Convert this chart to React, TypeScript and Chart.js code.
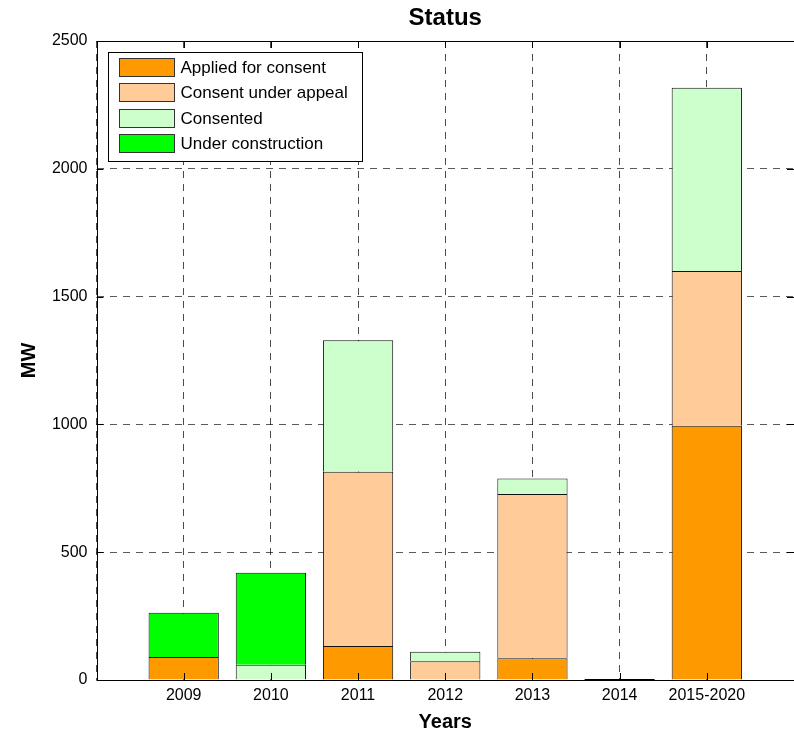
import React, { useEffect, useRef } from "react";
import { Chart, registerables } from "chart.js";

Chart.register(...registerables);

const categories = ["", "2009", "2010", "2011", "2012", "2013", "2014", "2015-2020", ""];
const appliedForConsent = [null, 90, null, 133, null, 85, 0, 995, null];
const consentUnderAppeal = [null, null, null, 682, 73, 643, null, 605, null];
const consented = [null, null, 60, 514, 38, 60, null, 717, null];
const underConstruction = [null, 173, 360, null, null, null, null, null, null];

const seriesLabels = ["Applied for consent", "Consent under appeal", "Consented", "Under construction"];
const seriesColors = ["#FF9900", "#FFCC99", "#CCFFCC", "#00FF00"];
const yTicks = [0, 500, 1000, 1500, 2000, 2500];

const FONT = "'Liberation Sans', Arial, Helvetica, sans-serif";

const framePlugin = {
  id: "framePlugin",
  afterDraw(chart: any) {
    const { ctx, chartArea } = chart;
    const { left, right, top, bottom } = chartArea;
    ctx.save();
    ctx.strokeStyle = "#000";
    ctx.lineWidth = 1;
    const ys = chart.scales.y;
    const xs = chart.scales.x;
    ctx.beginPath();
    yTicks.forEach((v) => {
      const py = Math.round(ys.getPixelForValue(v)) + 0.5;
      ctx.moveTo(left, py);
      ctx.lineTo(left + 7, py);
      ctx.moveTo(right, py);
      ctx.lineTo(right - 7, py);
    });
    for (let i = 1; i < categories.length - 1; i++) {
      const px = Math.round(xs.getPixelForValue(i)) + 0.5;
      ctx.moveTo(px, bottom);
      ctx.lineTo(px, bottom - 7);
      ctx.moveTo(px, top);
      ctx.lineTo(px, top + 7);
    }
    const p14 = xs.getPixelForValue(6);
    const by = Math.round(bottom) - 0.5;
    ctx.moveTo(p14 - 35, by);
    ctx.lineTo(p14 + 35, by);
    ctx.stroke();
    ctx.strokeRect(Math.round(left) + 0.5, Math.round(top) + 0.5, Math.round(right - left), Math.round(bottom - top));

    ctx.fillStyle = "#000";
    ctx.font = `bold 24px ${FONT}`;
    ctx.textAlign = "center";
    ctx.textBaseline = "middle";
    ctx.fillText("Status", (left + right) / 2, 18);

    const lx = left + 11;
    const ly = top + 11;
    const lw = 254;
    const lh = 109;
    ctx.fillStyle = "#fff";
    ctx.fillRect(lx, ly, lw, lh);
    ctx.strokeStyle = "#000";
    ctx.strokeRect(Math.round(lx) + 0.5, Math.round(ly) + 0.5, lw, lh);
    ctx.font = `17px ${FONT}`;
    ctx.textAlign = "left";
    ctx.textBaseline = "middle";
    seriesLabels.forEach((lab, i) => {
      const sy = Math.round(ly + 6 + i * 25.3);
      const sx = Math.round(lx + 11);
      ctx.fillStyle = seriesColors[i];
      ctx.fillRect(sx, sy, 55, 18);
      ctx.strokeStyle = "#333";
      ctx.strokeRect(sx + 0.5, sy + 0.5, 55, 18);
      ctx.fillStyle = "#000";
      ctx.fillText(lab, lx + 73, sy + 10);
    });
    ctx.restore();
  },
};

export default function App() {
  const ref = useRef<HTMLCanvasElement | null>(null);
  useEffect(() => {
    if (!ref.current) return;
    Chart.defaults.font.family = FONT;
    Chart.defaults.color = "#000";
    const data = [appliedForConsent, consentUnderAppeal, consented, underConstruction];
    const chart = new Chart(ref.current, {
      type: "bar",
      data: {
        labels: categories,
        datasets: data.map((d, i) => ({
          label: seriesLabels[i],
          data: d as any,
          backgroundColor: seriesColors[i],
          borderColor: "#111",
          borderWidth: 1,
          borderSkipped: "bottom",
          barPercentage: 0.806,
          categoryPercentage: 1,
        })),
      },
      options: {
        responsive: false,
        animation: false,
        devicePixelRatio: 1,
        layout: { padding: { top: 41, right: 3.1, left: 0, bottom: 0 } },
        plugins: {
          legend: { display: false },
          title: { display: false },
          tooltip: { enabled: false },
        },
        scales: {
          x: {
            stacked: true,
            offset: false,
            afterFit: (s: any) => {
              s.height = 56;
            },
            grid: {
              offset: false,
              drawTicks: false,
              color: "rgba(0,0,0,0.7)",
              lineWidth: 1,
            },
            border: { display: false, dash: [7, 6] },
            ticks: {
              padding: 6,
              font: { size: 16 },
              color: "#000",
              maxRotation: 0,
              autoSkip: false,
            },
            title: {
              display: true,
              text: "Years",
              font: { size: 20, weight: "bold" },
              color: "#000",
              padding: { top: 0, bottom: 2 },
            },
          },
          y: {
            stacked: true,
            min: 0,
            max: 2500,
            afterFit: (s: any) => {
              s.width = 96.5;
            },
            grid: {
              drawTicks: false,
              color: "rgba(0,0,0,0.65)",
              lineWidth: 1,
            },
            border: { display: false, dash: [7, 6] },
            ticks: {
              stepSize: 500,
              padding: 9,
              font: { size: 16 },
              color: "#000",
              callback: (v: any) => String(v),
            },
            title: {
              display: true,
              text: "MW",
              font: { size: 20, weight: "bold" },
              color: "#000",
              padding: { top: 17, bottom: 0 },
            },
          },
        },
      },
      plugins: [framePlugin],
    });
    return () => chart.destroy();
  }, []);
  return (
    <div style={{ position: "absolute", left: 0, top: 0, width: 794, height: 736, overflow: "hidden", background: "#fff" }}>
      <canvas ref={ref} width={800} height={736} style={{ display: "block" }} />
    </div>
  );
}
